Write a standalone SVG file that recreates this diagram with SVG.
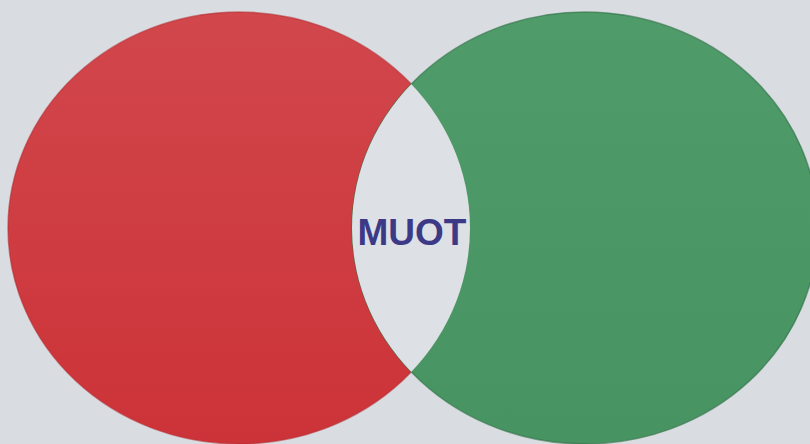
<svg xmlns="http://www.w3.org/2000/svg" width="810" height="444" viewBox="0 0 810 444">
  <style>
    .paper { fill: #d9dde2; }
    .lens { fill: #dde0e4; }
    .red { fill: url(#gRed); stroke: #b32a30; stroke-opacity: 0.55; stroke-width: 1.5; }
    .green { fill: url(#gGreen); stroke: #2f6e44; stroke-opacity: 0.6; stroke-width: 1.5; }
    .label { font-family: "Liberation Sans", Arial, sans-serif; font-weight: bold; font-size: 37px; fill: #3c3987; }
  </style>
  <defs>
    <linearGradient id="gRed" x1="0" y1="0" x2="0" y2="1">
      <stop offset="0" stop-color="#d1474c"/>
      <stop offset="1" stop-color="#cc3338"/>
    </linearGradient>
    <linearGradient id="gGreen" x1="0" y1="0" x2="0" y2="1">
      <stop offset="0" stop-color="#4f9b69"/>
      <stop offset="1" stop-color="#479462"/>
    </linearGradient>
    <clipPath id="clipGreen">
      <ellipse cx="585" cy="228" rx="233" ry="216"/>
    </clipPath>
  </defs>
  <rect class="paper" x="0" y="0" width="810" height="444"/>
  <g id="red-circle">
    <ellipse class="red" cx="239" cy="228" rx="231" ry="216"/>
  </g>
  <g id="green-circle">
    <ellipse class="green" cx="585" cy="228" rx="233" ry="216"/>
  </g>
  <g id="overlap">
    <ellipse class="lens" cx="239" cy="228" rx="231" ry="216" clip-path="url(#clipGreen)"/>
  </g>
  <g id="label-muot">
    <text class="label" x="412" y="245" text-anchor="middle">MUOT</text>
  </g>
</svg>
